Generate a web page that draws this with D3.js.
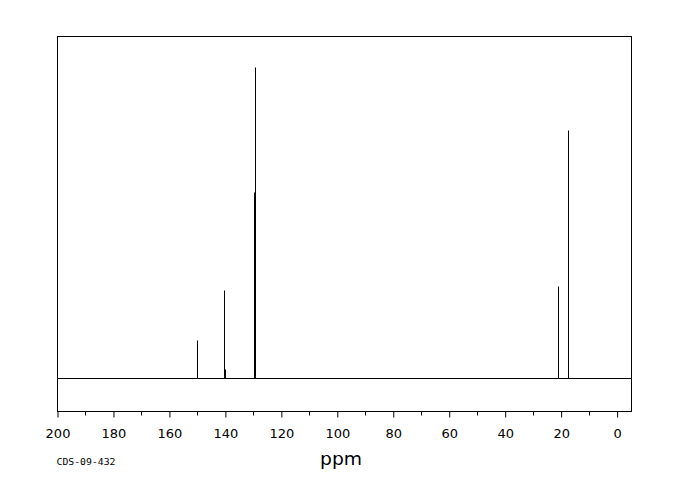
<!DOCTYPE html>
<html>
<head>
<meta charset="utf-8">
<script src="https://cdn.jsdelivr.net/npm/d3@7"></script>
<style>
  body { margin: 0; background: #fff; }
  svg { display: block; }
  .frame { fill: none; stroke: #000; stroke-width: 1; }
  .spec { stroke: #000; stroke-width: 1; fill: none; }
</style>
</head>
<body>
<svg id="chart" width="680" height="500"></svg>
<script>
// Peak positions (ppm) and relative heights
const peakPpm = [150.0, 140.36, 140.0, 129.64, 129.3, 21.07, 17.36];
const peakHeight = [12.2, 28.3, 2.8, 59.8, 100, 29.6, 79.7];
const majorTicks = [200, 180, 160, 140, 120, 100, 80, 60, 40, 20, 0];
const minorTicks = [190, 170, 150, 130, 110, 90, 70, 50, 30, 10];
const sampleId = "CDS-09-432";
const axisTitle = "ppm";

const LEFT = 57.5;
const RIGHT = 631.5;
const TOP = 36.5;
const BOTTOM = 411.5;

const svg = d3.select("#chart");

const x = d3.scaleLinear()
  .domain([200, -5.14])
  .range([LEFT, RIGHT]);

const y = d3.scaleLinear()
  .domain([-10.6, 110])
  .range([BOTTOM, TOP]);

const px = v => Math.floor(v) + 0.5;

// plot box
svg.append("rect")
  .attr("class", "frame")
  .attr("x", LEFT)
  .attr("y", TOP)
  .attr("width", RIGHT - LEFT)
  .attr("height", BOTTOM - TOP);

// baseline
const base = px(y(0));
svg.append("line")
  .attr("class", "spec")
  .attr("x1", LEFT)
  .attr("x2", RIGHT)
  .attr("y1", base)
  .attr("y2", base);

// peaks as sticks
svg.selectAll("line.peak")
  .data(peakPpm)
  .enter()
  .append("line")
  .attr("class", "spec peak")
  .attr("x1", d => px(x(d)))
  .attr("x2", d => px(x(d)))
  .attr("y1", base)
  .attr("y2", (d, i) => px(y(peakHeight[i])));

// bottom axis
const axis = d3.axisBottom(x)
  .tickValues(majorTicks)
  .tickSize(6)
  .tickPadding(6)
  .tickFormat(d3.format("d"));

const axisG = svg.append("g")
  .attr("transform", `translate(0,${BOTTOM})`)
  .call(axis);
axisG.select(".domain").remove();
axisG.selectAll("line").attr("stroke", "#000");
axisG.selectAll("text")
  .attr("fill", "#000")
  .attr("font-family", "DejaVu Sans")
  .attr("font-size", 13)
  .attr("dy", null)
  .attr("y", 26.5);

svg.append("g")
  .selectAll("line")
  .data(minorTicks)
  .enter()
  .append("line")
  .attr("stroke", "#000")
  .attr("x1", d => px(x(d)))
  .attr("x2", d => px(x(d)))
  .attr("y1", BOTTOM)
  .attr("y2", BOTTOM + 4);

// labels
svg.append("text")
  .attr("x", 56.5)
  .attr("y", 465)
  .attr("font-family", "DejaVu Sans Mono")
  .attr("font-size", 8)
  .attr("textLength", 59)
  .attr("lengthAdjust", "spacingAndGlyphs")
  .text(sampleId);

svg.append("text")
  .attr("x", 341)
  .attr("y", 465)
  .attr("text-anchor", "middle")
  .attr("fill", "#000")
  .attr("font-family", "DejaVu Sans")
  .attr("font-size", 18)
  .attr("textLength", 42)
  .attr("lengthAdjust", "spacingAndGlyphs")
  .text(axisTitle);
</script>
</body>
</html>
